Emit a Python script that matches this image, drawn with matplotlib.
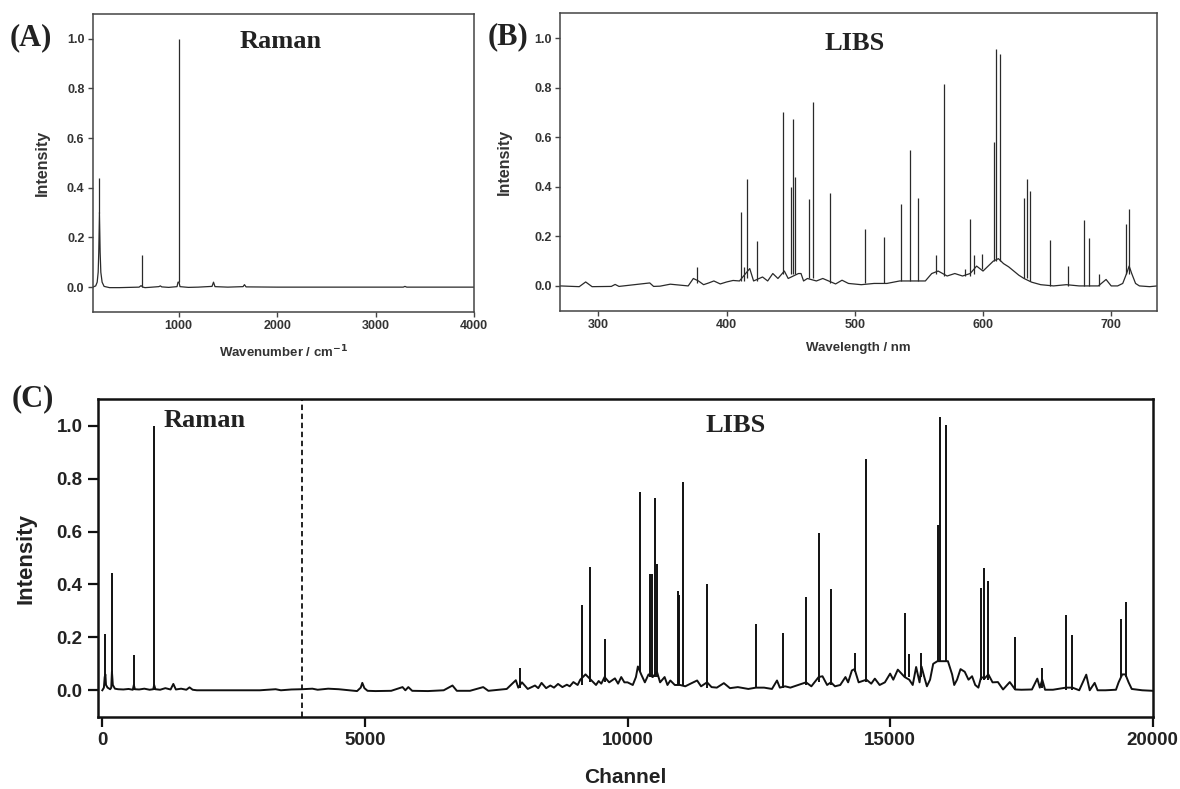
import matplotlib
matplotlib.use("Agg")
import matplotlib.pyplot as plt
import matplotlib.ticker as mticker

plt.rcParams['font.family'] = ['Liberation Sans', 'DejaVu Sans']

# ---------------- Panel A : Raman (wavenumber, intensity) ----------------
ramanA_baseline = [(130, 0.0), (160, 0.005), (175, 0.02), (185, 0.06), (191, 0.14), (198, 0.30),
                   (205, 0.14), (212, 0.06), (225, 0.02), (245, 0.003), (300, -0.002), (400, -0.002),
                   (500, -0.001), (600, 0.0), (620, 0.006), (640, 0.0), (660, -0.002), (700, -0.001),
                   (800, 0.002), (816, 0.005), (830, 0.001), (900, -0.001), (985, 0.002), (995, 0.02),
                   (1005, 0.02), (1015, 0.002), (1100, -0.001), (1200, 0.0), (1340, 0.003), (1355, 0.02),
                   (1370, 0.002), (1500, 0.0), (1655, 0.002), (1669, 0.01), (1685, 0.001), (2000, 0.0),
                   (2500, 0.0), (3000, 0.0), (3280, 0.0), (3297, 0.003), (3315, 0.0), (3600, 0.0),
                   (4000, 0.0)]
ramanA_peak_x = [198, 628, 1000]
ramanA_peak_y = [0.44, 0.13, 1.0]
ramanA_peak_foot = [0.30, 0.0, 0.02]

# ---------------- Panel B : LIBS (wavelength, intensity) ----------------
libsB_baseline = [(270, 0.0), (285, -0.003), (290, 0.016), (295, -0.003), (310, -0.002), (313, 0.006),
                  (316, -0.002), (340, 0.012), (343, -0.002), (348, -0.001), (356, 0.007), (370, 0.0),
                  (374, 0.03), (378, 0.02), (382, 0.005), (386, 0.012), (390, 0.02), (395, 0.008),
                  (400, 0.016), (405, 0.022), (410, 0.02), (418, 0.07), (421, 0.02), (428, 0.036),
                  (432, 0.02), (436, 0.05), (440, 0.03), (445, 0.06), (448, 0.03), (456, 0.05),
                  (458, 0.05), (460, 0.02), (463, 0.03), (470, 0.02), (475, 0.03), (485, 0.008),
                  (490, 0.023), (495, 0.01), (505, 0.005), (515, 0.01), (525, 0.01), (535, 0.02),
                  (545, 0.02), (555, 0.02), (560, 0.05), (565, 0.06), (572, 0.04), (578, 0.05),
                  (584, 0.04), (590, 0.05), (595, 0.08), (600, 0.06), (604, 0.08), (608, 0.10),
                  (612, 0.11), (616, 0.09), (620, 0.077), (624, 0.06), (628, 0.043), (632, 0.03),
                  (638, 0.015), (645, 0.005), (655, 0.0), (665, 0.005), (675, 0.0), (690, 0.0),
                  (696, 0.026), (700, 0.0), (705, 0.0), (709, 0.01), (712, 0.05), (714, 0.08),
                  (716, 0.05), (719, 0.01), (722, 0.0), (730, -0.003), (736, 0.0)]
libsB_peak_x = [376.8, 411.0, 413.8, 415.6, 423.7, 443.8, 450.5, 451.5, 453.0, 464.6, 467.0, 480.4,
                508.3, 523.0, 536.0, 543.0, 549.5, 563.0, 569.3, 586.0, 590.0, 593.0, 599.5, 608.4,
                610.0, 613.0, 632.3, 634.0, 636.6, 652.0, 666.5, 678.9, 683.0, 690.5, 711.6, 714.0]
libsB_peak_y = [0.077, 0.297, 0.077, 0.433, 0.18, 0.70, 0.40, 0.675, 0.44, 0.35, 0.74, 0.375,
                0.23, 0.198, 0.33, 0.55, 0.353, 0.125, 0.816, 0.07, 0.27, 0.124, 0.13, 0.58,
                0.957, 0.935, 0.356, 0.433, 0.383, 0.187, 0.08, 0.265, 0.195, 0.05, 0.25, 0.31]
libsB_peak_foot = [0.01, 0.02, 0.02, 0.03, 0.02, 0.05, 0.05, 0.05, 0.05, 0.03, 0.03, 0.01,
                   0.01, 0.01, 0.02, 0.02, 0.02, 0.05, 0.04, 0.04, 0.04, 0.05, 0.07, 0.10,
                   0.10, 0.10, 0.03, 0.03, 0.02, 0.0, 0.0, 0.0, 0.0, 0.0, 0.05, 0.05]

# ---------------- Panel C : combined spectrum vs channel ----------------
combC_baseline = [(0, 0.0), (30, 0.01), (45, 0.05), (58, 0.06), (70, 0.02), (100, 0.01), (150, 0.004),
                  (170, 0.01), (183, 0.07), (200, 0.02), (240, 0.006), (300, 0.004), (400, 0.003),
                  (500, 0.005), (580, 0.002), (600, 0.02), (620, 0.004), (700, 0.003), (800, 0.006),
                  (900, 0.002), (970, 0.004), (987, 0.02), (1010, 0.004), (1100, 0.002), (1200, 0.008),
                  (1300, 0.003), (1352, 0.024), (1400, 0.003), (1500, 0.006), (1600, 0.002),
                  (1660, 0.011), (1720, 0.002), (1800, 0.0), (2000, 0.0), (2500, 0.0), (3000, 0.0),
                  (3300, 0.004), (3400, 0.0), (3600, 0.003), (3800, 0.004), (4000, 0.006),
                  (4100, 0.002), (4300, 0.006), (4500, 0.004), (4850, -0.003), (4920, 0.01),
                  (4950, 0.028), (4990, 0.008), (5050, -0.002), (5200, -0.003), (5500, -0.002),
                  (5716, 0.012), (5770, 0.0), (5826, 0.012), (5900, -0.002), (6200, -0.003),
                  (6500, 0.0), (6667, 0.018), (6750, -0.002), (7000, -0.002), (7252, 0.012),
                  (7350, -0.002), (7700, 0.005), (7873, 0.038), (7920, 0.01), (7990, 0.03),
                  (8100, 0.005), (8238, 0.018), (8300, 0.008), (8363, 0.028), (8450, 0.008),
                  (8530, 0.018), (8600, 0.01), (8677, 0.024), (8760, 0.012), (8845, 0.021),
                  (8900, 0.015), (8969, 0.031), (9050, 0.02), (9100, 0.04), (9200, 0.06), (9300, 0.04),
                  (9400, 0.02), (9450, 0.035), (9500, 0.025), (9563, 0.05), (9650, 0.03),
                  (9760, 0.045), (9820, 0.025), (9880, 0.05), (9940, 0.03), (10000, 0.03),
                  (10100, 0.02), (10160, 0.05), (10197, 0.09), (10260, 0.06), (10330, 0.03),
                  (10400, 0.06), (10480, 0.05), (10560, 0.07), (10620, 0.03), (10706, 0.05),
                  (10760, 0.02), (10815, 0.037), (10900, 0.02), (11000, 0.02), (11100, 0.015),
                  (11200, 0.025), (11325, 0.037), (11400, 0.015), (11514, 0.03), (11600, 0.012),
                  (11700, 0.01), (11834, 0.027), (11950, 0.008), (12100, 0.012), (12300, 0.005),
                  (12445, 0.01), (12600, 0.01), (12750, 0.005), (12846, 0.037), (12900, 0.01),
                  (13000, 0.015), (13100, 0.01), (13250, 0.02), (13399, 0.03), (13500, 0.015),
                  (13639, 0.05), (13712, 0.053), (13800, 0.02), (13872, 0.03), (13950, 0.015),
                  (14050, 0.02), (14149, 0.05), (14200, 0.03), (14272, 0.075), (14323, 0.08),
                  (14400, 0.03), (14549, 0.04), (14640, 0.025), (14709, 0.044), (14800, 0.02),
                  (14900, 0.03), (15000, 0.063), (15060, 0.04), (15146, 0.078), (15277, 0.05),
                  (15364, 0.04), (15430, 0.02), (15495, 0.088), (15560, 0.03), (15597, 0.09),
                  (15650, 0.05), (15700, 0.015), (15760, 0.04), (15820, 0.10), (15900, 0.11),
                  (16000, 0.11), (16100, 0.11), (16180, 0.06), (16220, 0.02), (16274, 0.04),
                  (16340, 0.08), (16420, 0.07), (16492, 0.04), (16560, 0.053), (16620, 0.02),
                  (16680, 0.01), (16732, 0.05), (16800, 0.045), (16870, 0.06), (16950, 0.03),
                  (17052, 0.031), (17150, 0.003), (17278, 0.031), (17380, 0.003), (17500, 0.002),
                  (17700, 0.003), (17802, 0.044), (17850, 0.01), (17897, 0.04), (17950, 0.002),
                  (18100, 0.002), (18348, 0.01), (18472, 0.01), (18600, 0.0), (18734, 0.059),
                  (18800, 0.0), (18894, 0.028), (18950, 0.0), (19100, 0.0), (19300, 0.002),
                  (19350, 0.03), (19420, 0.06), (19480, 0.06), (19540, 0.03), (19600, 0.005),
                  (19800, 0.0), (20000, -0.002)]
combC_peak_x = [58, 183, 600, 987, 7953, 9130, 9277, 9563, 10233, 10429, 10470, 10517, 10560, 10960,
                10985, 11048, 11514, 12445, 12962, 13399, 13639, 13872, 14323, 14549, 15277, 15364,
                15597, 15910, 15953, 16055, 16732, 16783, 16870, 17380, 17897, 18348, 18472, 19403, 19498]
combC_peak_y = [0.213, 0.444, 0.134, 1.0, 0.084, 0.322, 0.467, 0.194, 0.751, 0.438, 0.44, 0.726, 0.476,
                0.375, 0.36, 0.789, 0.403, 0.25, 0.215, 0.354, 0.595, 0.382, 0.14, 0.876, 0.294,
                0.138, 0.14, 0.626, 1.033, 1.004, 0.385, 0.463, 0.413, 0.203, 0.085, 0.284, 0.21,
                0.269, 0.332]
combC_peak_foot = [0.02, 0.02, 0.0, 0.0, 0.01, 0.02, 0.03, 0.03, 0.07, 0.05, 0.05, 0.05, 0.05,
                   0.02, 0.02, 0.02, 0.01, 0.01, 0.01, 0.02, 0.03, 0.02, 0.07, 0.03, 0.05,
                   0.05, 0.05, 0.11, 0.11, 0.11, 0.04, 0.04, 0.04, 0.0, 0.01, 0.0, 0.0,
                   0.05, 0.05]
split_channel = 3800

yticks = [0.0, 0.2, 0.4, 0.6, 0.8, 1.0]

# ---------------- figure ----------------
fig = plt.figure(figsize=(11.8, 7.89), dpi=100)
axA = fig.add_axes([0.0786, 0.6046, 0.3233, 0.3777])
axB = fig.add_axes([0.4746, 0.6062, 0.5062, 0.3770])
axC = fig.add_axes([0.0828, 0.0916, 0.8941, 0.4023])

small_col = '#2a2a2a'
for ax, base, px, py, pf in [
        (axA, ramanA_baseline, ramanA_peak_x, ramanA_peak_y, ramanA_peak_foot),
        (axB, libsB_baseline, libsB_peak_x, libsB_peak_y, libsB_peak_foot)]:
    bx, by = zip(*base)
    ax.plot(bx, by, color=small_col, lw=0.9)
    ax.vlines(px, pf, py, color=small_col, lw=0.9)
    for s in ax.spines.values():
        s.set_linewidth(1.1)
        s.set_color('#444444')
    ax.set_ylim(-0.1, 1.1)
    ax.set_yticks(yticks)
    ax.yaxis.set_major_formatter(mticker.FormatStrFormatter('%.1f'))
    ax.tick_params(direction='out', length=3.5, width=1.0, color='#444444', labelsize=9,
                   pad=2.5, top=False, right=False)

axA.set_xlim(130, 4000)
axA.set_xticks([1000, 2000, 3000, 4000])
axB.set_xlim(270, 736)
axB.set_xticks([300, 400, 500, 600, 700])
for ax in (axA, axB):
    for lab in ax.get_xticklabels() + ax.get_yticklabels():
        lab.set_fontweight('bold')
        lab.set_color('#333333')

axA.set_xlabel('Wavenumber / cm$^{\\mathbf{-1}}$', fontsize=9.5, fontweight='bold', color='#333333')
axA.set_ylabel('Intensity', fontsize=11.5, fontweight='bold', color='#333333')
axB.set_xlabel('Wavelength / nm', fontsize=9.5, fontweight='bold', color='#333333')
axB.set_ylabel('Intensity', fontsize=11.5, fontweight='bold', color='#333333')
axA.xaxis.set_label_coords(0.5, -0.105)
axB.xaxis.set_label_coords(0.5, -0.105)
axA.yaxis.set_label_coords(-0.112, 0.5)
axB.yaxis.set_label_coords(-0.080, 0.5)

serif = ['Liberation Serif', 'DejaVu Serif']
axA.text(2040, 0.99, 'Raman', family=serif, fontweight='bold', fontsize=19, ha='center', va='center',
         color='#222222')
axB.text(500, 0.98, 'LIBS', family=serif, fontweight='bold', fontsize=19, ha='center', va='center',
         color='#222222')

# Panel C
cx, cy = zip(*combC_baseline)
axC.plot(cx, cy, color='#111111', lw=1.4)
axC.vlines(combC_peak_x, combC_peak_foot, combC_peak_y, color='#111111', lw=1.4)
axC.axvline(split_channel, color='#111111', lw=1.3, ls=(0, (3, 2)))
axC.set_xlim(-88, 20000)
axC.set_ylim(-0.1, 1.1)
axC.set_xticks([0, 5000, 10000, 15000, 20000])
axC.set_yticks(yticks)
axC.yaxis.set_major_formatter(mticker.FormatStrFormatter('%.1f'))
for s in axC.spines.values():
    s.set_linewidth(1.8)
    s.set_color('#111111')
axC.tick_params(direction='out', length=7, width=1.6, color='#111111', labelsize=13.5, pad=4,
                top=False, right=False)
for lab in axC.get_xticklabels() + axC.get_yticklabels():
    lab.set_fontweight('bold')
    lab.set_color('#222222')
axC.set_xlabel('Channel', fontsize=15, fontweight='bold', color='#222222')
axC.set_ylabel('Intensity', fontsize=16, fontweight='bold', color='#222222')
axC.xaxis.set_label_coords(0.5, -0.163)
axC.yaxis.set_label_coords(-0.058, 0.5)
axC.text(1170, 1.02, 'Raman', family=serif, fontweight='bold', fontsize=19, ha='left', va='center',
         color='#222222')
axC.text(12050, 1.0, 'LIBS', family=serif, fontweight='bold', fontsize=19, ha='center', va='center',
         color='#222222')

# Panel letters
for lbl, xx, yy in [('(A)', 0.0263, 0.9518), ('(B)', 0.4305, 0.9531), ('(C)', 0.028, 0.4943)]:
    fig.text(xx, yy, lbl, family=serif, fontweight='bold', fontsize=22, ha='center', va='center',
             color='#222222')

fig.savefig('out.png', dpi=100)
